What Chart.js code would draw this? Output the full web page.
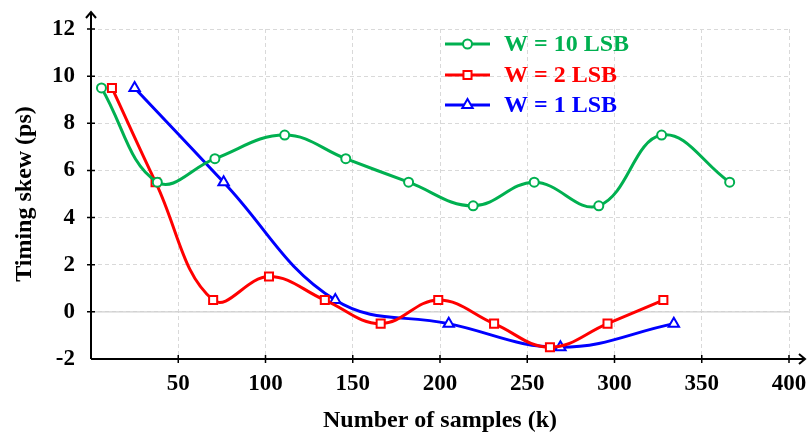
<!DOCTYPE html>
<html>
<head>
<meta charset="utf-8">
<title>Timing skew vs number of samples</title>
<script src="https://cdn.jsdelivr.net/npm/chart.js@4.4.1/dist/chart.umd.min.js"></script>
<style>
  html, body { margin: 0; padding: 0; background: #fff; }
  #wrap { width: 809px; height: 435px; }
</style>
</head>
<body>
<div id="wrap"><canvas id="skew-chart" width="809" height="435"></canvas></div>
<script>
// samples (k) and timing skew (ps) for each window width
const w10X = [6, 38, 71, 111, 146, 182, 219, 254, 291, 327, 366];
const w10Y = [9.5, 5.5, 6.5, 7.5, 6.5, 5.5, 4.5, 5.5, 4.5, 7.5, 5.5];
const w2X = [12, 37, 70, 102, 134, 166, 199, 231, 263, 296, 328];
const w2Y = [9.5, 5.5, 0.5, 1.5, 0.5, -0.5, 0.5, -0.5, -1.5, -0.5, 0.5];
const w1X = [25, 76, 140, 205, 269, 334];
const w1Y = [9.5, 5.5, 0.5, -0.5, -1.5, -0.5];

const seriesNames = ["W = 10 LSB", "W = 2 LSB", "W = 1 LSB"];
const seriesColors = ["#00b050", "#ff0000", "#0000ff"];
const seriesMarkers = ["circle", "rect", "triangle"];
const markerSizes = [4.5, 5.7, 6];

const xTicks = [0, 50, 100, 150, 200, 250, 300, 350, 400];
const yTicks = [-2, 0, 2, 4, 6, 8, 10, 12];

const FONT = "'Liberation Serif', 'Times New Roman', serif";

function toPoints(xs, ys) {
  return xs.map((x, i) => ({ x: x, y: ys[i] }));
}

const allData = [toPoints(w10X, w10Y), toPoints(w2X, w2Y), toPoints(w1X, w1Y)];

const datasets = allData.map((pts, i) => ({
  label: seriesNames[i],
  data: pts,
  borderColor: seriesColors[i],
  borderWidth: 3,
  tension: 0.4,
  pointStyle: seriesMarkers[i],
  pointRadius: markerSizes[i],
  pointBorderWidth: 2,
  pointBorderColor: seriesColors[i],
  pointBackgroundColor: "#fff",
  fill: false
}));

// axes with arrow heads, crossing tick marks, solid zero line and the legend
const axisPlugin = {
  id: "axisArrows",
  beforeDatasetsDraw(chart) {
    const { ctx, chartArea, scales } = chart;
    const y0 = scales.y.getPixelForValue(0);
    ctx.save();
    ctx.strokeStyle = "#cfcfcf";
    ctx.lineWidth = 1.2;
    ctx.beginPath();
    ctx.moveTo(chartArea.left, y0);
    ctx.lineTo(chartArea.right, y0);
    ctx.stroke();
    ctx.restore();
  },
  afterDraw(chart) {
    const { ctx, chartArea, scales } = chart;
    const left = chartArea.left;
    const bottom = chartArea.bottom;
    ctx.save();
    ctx.strokeStyle = "#000";
    ctx.lineWidth = 2;
    ctx.beginPath();
    ctx.moveTo(left, bottom);
    ctx.lineTo(left, 12);
    ctx.moveTo(left - 5, 18);
    ctx.lineTo(left, 12);
    ctx.lineTo(left + 5, 18);
    ctx.moveTo(left, bottom);
    ctx.lineTo(805, bottom);
    ctx.moveTo(799, bottom - 5);
    ctx.lineTo(805, bottom);
    ctx.lineTo(799, bottom + 5);
    ctx.stroke();

    ctx.lineWidth = 1.5;
    ctx.beginPath();
    yTicks.slice(1).forEach(v => {
      const py = scales.y.getPixelForValue(v);
      ctx.moveTo(left - 4, py);
      ctx.lineTo(left + 4, py);
    });
    xTicks.slice(1).forEach(v => {
      const px = scales.x.getPixelForValue(v);
      ctx.moveTo(px, bottom - 4);
      ctx.lineTo(px, bottom + 4);
    });
    ctx.stroke();

    // legend
    const rows = [44, 75, 105];
    chart.data.datasets.forEach((ds, i) => {
      const ly = rows[i];
      ctx.strokeStyle = ds.borderColor;
      ctx.lineWidth = 3;
      ctx.beginPath();
      ctx.moveTo(445, ly);
      ctx.lineTo(490, ly);
      ctx.stroke();
      ctx.fillStyle = "#fff";
      ctx.lineWidth = 2;
      Chart.helpers.drawPoint(ctx, {
        pointStyle: ds.pointStyle,
        radius: ds.pointRadius,
        rotation: 0,
        borderWidth: 2
      }, 467.5, ly);
      ctx.fillStyle = ds.borderColor;
      ctx.font = "bold 24px " + FONT;
      ctx.textBaseline = "middle";
      ctx.textAlign = "left";
      ctx.fillText(ds.label, 504, ly + 1);
    });
    ctx.restore();
  }
};

new Chart(document.getElementById("skew-chart"), {
  type: "line",
  data: { datasets: datasets },
  plugins: [axisPlugin],
  options: {
    responsive: false,
    animation: false,
    layout: { padding: { top: 29, right: 20, left: 0, bottom: 0 } },
    plugins: {
      legend: { display: false },
      tooltip: { enabled: false }
    },
    scales: {
      x: {
        type: "linear",
        min: 0,
        max: 400,
        afterFit: s => {
          s.height = 76;
          s.paddingLeft = 0;
          s.paddingRight = 0;
        },
        afterBuildTicks: s => { s.ticks = xTicks.map(v => ({ value: v })); },
        ticks: {
          padding: 11,
          color: "#000",
          font: { family: FONT, size: 23, weight: "bold" },
          callback: v => (v === 0 ? "" : v),
          maxRotation: 0
        },
        grid: { color: "#d9d9d9", lineWidth: 1, drawTicks: false },
        border: { display: false, dash: [4, 3] },
        title: {
          display: true,
          text: "Number of samples (k)",
          color: "#000",
          font: { family: FONT, size: 24, weight: "bold" },
          padding: { top: 0, bottom: 0 }
        }
      },
      y: {
        min: -2,
        max: 12,
        afterFit: s => {
          s.width = 91;
          s.paddingTop = 0;
          s.paddingBottom = 0;
        },
        afterBuildTicks: s => { s.ticks = yTicks.map(v => ({ value: v })); },
        ticks: {
          padding: 16,
          color: "#000",
          font: { family: FONT, size: 23, weight: "bold" }
        },
        grid: { color: "#d9d9d9", lineWidth: 1, drawTicks: false },
        border: { display: false, dash: [4, 3] },
        title: {
          display: true,
          text: "Timing skew (ps)",
          color: "#000",
          font: { family: FONT, size: 24, weight: "bold" },
          padding: { top: 10, bottom: 0 }
        }
      }
    }
  }
});
</script>
</body>
</html>
